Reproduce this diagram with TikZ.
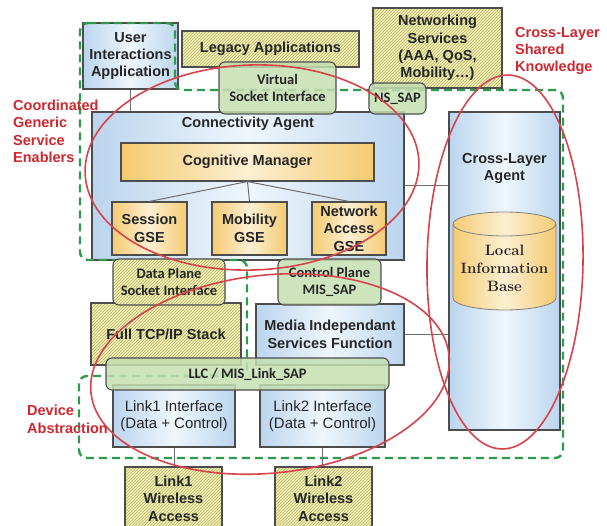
\documentclass[tikz,border=0pt]{standalone}
\usepackage{fontspec}
\setsansfont{Liberation Sans}
\newfontfamily\sapfont{Carlito}
\usepackage{tikz}
\usetikzlibrary{patterns}

\definecolor{edgegray}{HTML}{4D4D4D}
\definecolor{linegray}{HTML}{6E6E6E}
\definecolor{txtgray}{HTML}{262626}
\definecolor{blueside}{HTML}{BBD5EE}
\definecolor{bluemid}{HTML}{EFF6FC}
\definecolor{yelside}{HTML}{F4CB72}
\definecolor{yelmid}{HTML}{FCEFD2}
\definecolor{hatchfill}{HTML}{F0F0B0}
\definecolor{hatchline}{HTML}{B8B272}
\definecolor{sapgreen}{HTML}{C4DFB2}
\definecolor{dashgreen}{HTML}{2E9A4C}
\definecolor{ovalred}{HTML}{D8434A}
\definecolor{lblred}{HTML}{D0262E}

\begin{document}
\begin{tikzpicture}[x=1pt, y=1pt,
    every node/.style={inner sep=0pt, align=center, text=txtgray,
      font=\sffamily\bfseries\fontsize{14.5}{17.4}\selectfont},
    bluebox/.style={draw=edgegray, line width=1.1pt, left color=blueside, right color=blueside, middle color=bluemid},
    yelbox/.style={draw=edgegray, line width=1.1pt, left color=yelside, right color=yelside, middle color=yelmid},
    hatchbox/.style={draw=edgegray, line width=1.1pt, preaction={fill=hatchfill}, pattern=north east lines, pattern color=hatchline},
    saptext/.style={font=\sapfont\bfseries\fontsize{14.5}{17}\selectfont},
    sapbox/.style={draw=edgegray, line width=1.1pt, fill=sapgreen, fill opacity=0.85, text opacity=1, rounded corners=6pt, saptext},
    linkline/.style={draw=linegray, line width=1pt},
    gsedash/.style={draw=dashgreen, line width=2.4pt, dash pattern=on 8pt off 5pt, rounded corners=8pt},
    oval/.style={draw=ovalred, line width=1.6pt},
    redlbl/.style={text=lblred, align=left, anchor=west}]

  \useasboundingbox (0,0) rectangle (607,-526);
  \clip (0,0) rectangle (607,-526);

  % Draw application layer
  \node[bluebox, minimum width=95pt, minimum height=66pt] (user) at (130.5,-56) {User\\Interactions\\Application};
  \node[hatchbox, minimum width=177pt, minimum height=36pt] (legacy) at (270.5,-49) {Legacy Applications};
  \node[hatchbox, minimum width=129pt, minimum height=80pt] (netsrv) at (437.5,-48) {Networking\\Services\\(AAA, QoS,\\Mobility…)};

  % Draw connectivity agent
  \node[bluebox, minimum width=312pt, minimum height=148pt] (conn) at (248,-186) {};
  \node (conntitle) at (248,-124) {Connectivity Agent};
  \node[yelbox, minimum width=253pt, minimum height=38pt] (cogm) at (247.5,-162) {Cognitive Manager};
  \node[yelbox, minimum width=75pt, minimum height=53pt] (sess) at (149.5,-228.5) {Session\\GSE};
  \node[yelbox, minimum width=75pt, minimum height=53pt] (mob) at (249.5,-228.5) {Mobility\\GSE};
  \node[yelbox, minimum width=74pt, minimum height=53pt] (nacc) at (349,-228.5) {Network\\Access\\GSE};

  % Draw cross-layer agent and its base
  \node[bluebox, minimum width=111pt, minimum height=318pt] (cla) at (504.5,-271) {};
  \node (clatitle) at (504.5,-168.5) {Cross-Layer\\Agent};
  \draw[draw=gray, line width=0.8pt, left color=yelside, right color=yelside, middle color=yelmid]
    (453,-224) -- (453,-298) arc[start angle=180, end angle=360, x radius=51.5, y radius=12]
    -- (556,-224) arc[start angle=0, end angle=180, x radius=51.5, y radius=12] -- cycle;
  \draw[draw=gray, line width=0.8pt] (556,-224) arc[start angle=0, end angle=-180, x radius=51.5, y radius=12];
  \node[font=\rmfamily\bfseries\fontsize{15}{18}\selectfont] (lib) at (504.5,-268) {Local\\Information\\Base};

  % Draw lower stack
  \node[hatchbox, minimum width=150pt, minimum height=62pt] (tcp) at (166,-334) {Full TCP/IP Stack};
  \node[bluebox, minimum width=148pt, minimum height=61pt] (misf) at (330,-334.5) {Media Independant\\Services Function};
  \node[bluebox, minimum width=122pt, minimum height=62pt, font=\sffamily\fontsize{15}{17.4}\selectfont] (lk1) at (174,-416) {Link1 Interface\\(Data + Control)};
  \node[bluebox, minimum width=125pt, minimum height=62pt, font=\sffamily\fontsize{15}{17.4}\selectfont] (lk2) at (322.5,-416) {Link2 Interface\\(Data + Control)};
  \node[hatchbox, minimum width=97pt, minimum height=63pt] (wa1) at (173.5,-498.5) {Link1\\Wireless\\Access};
  \node[hatchbox, minimum width=97pt, minimum height=63pt] (wa2) at (323.5,-498.5) {Link2\\Wireless\\Access};

  % Draw the dashed frame
  \draw[gsedash] (80,-23) -- (175,-23) -- (175,-90) -- (563,-90) -- (563,-458) -- (79,-458)
    -- (79,-376) -- (247,-376) -- (247,-260) -- (80,-260) -- cycle;

  % Draw access points
  \node[sapbox, minimum width=117pt, minimum height=52pt] (vsi) at (277.5,-88) {Virtual\\Socket Interface};
  \node[sapbox, minimum width=57pt, minimum height=31pt] (nssap) at (397.5,-98.5) {NS\_SAP};
  \node[hatchbox, rounded corners=6pt, saptext, minimum width=112pt, minimum height=46pt] (dps) at (169,-282) {Data Plane\\Socket Interface};
  \node[sapbox, minimum width=103pt, minimum height=46pt] (cps) at (329.5,-282) {Control Plane\\MIS\_SAP};
  \node[sapbox, minimum width=283pt, minimum height=32pt] (llc) at (247.5,-374) {LLC / MIS\_Link\_SAP};

  % Draw connectors
  \draw[linkline] (user.south) -- (user.south |- conn.north);
  \draw[linkline] (cogm.south) -- (sess.north);
  \draw[linkline] (cogm.south) -- (mob.north);
  \draw[linkline] (cogm.south) -- (nacc.north);
  \draw[linkline] (conn.east) -- (conn.east -| cla.west);
  \draw[linkline] (misf.east) -- (misf.east -| cla.west);
  \draw[linkline] (lk1.south) -- (lk1.south |- wa1.north);
  \draw[linkline] (lk2.south) -- (lk2.south |- wa2.north);

  % Draw red ovals
  \draw[oval, rotate around={2:(252,-167.5)}] (252,-167.5) ellipse [x radius=167, y radius=102.5];
  \draw[oval, rotate around={-1:(505,-262)}] (505,-262) ellipse [x radius=78, y radius=187];
  \draw[oval, rotate around={6:(270,-374)}] (270,-374) ellipse [x radius=180, y radius=99];

  % Draw red labels
  \node[redlbl] (gselbl) at (13,-131.5) {Coordinated\\Generic\\Service\\Enablers};
  \node[redlbl] (clklbl) at (515,-51) {Cross-Layer\\Shared\\Knowledge};
  \node[redlbl] (devlbl) at (27,-419.5) {Device\\Abstraction};
\end{tikzpicture}
\end{document}
